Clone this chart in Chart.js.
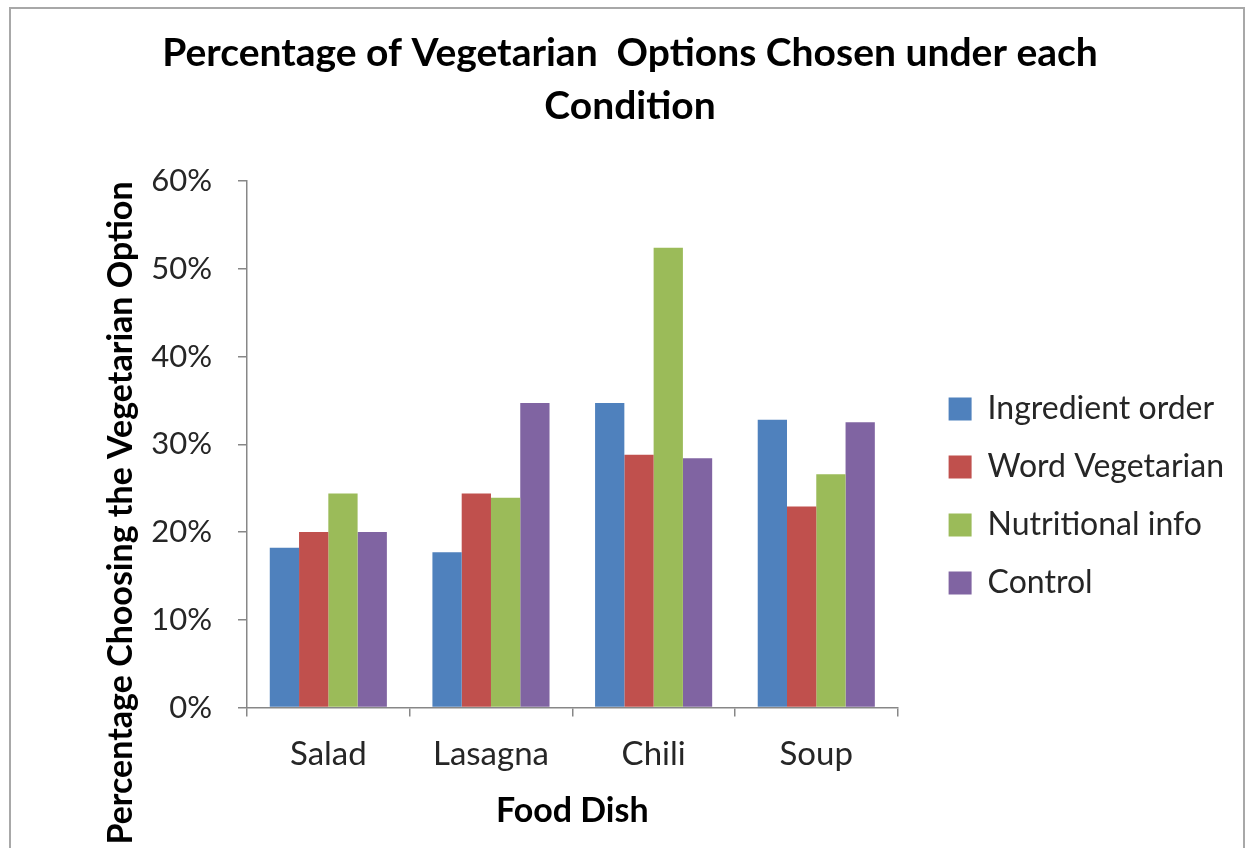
<!DOCTYPE html>
<html>
<head>
<meta charset="utf-8">
<title>Percentage of Vegetarian Options Chosen under each Condition</title>
<script src="https://cdn.jsdelivr.net/npm/chart.js@4.4.1/dist/chart.umd.min.js"></script>
<style>
    html, body { margin: 0; padding: 0; background: #fff; }
    .frame {
        position: absolute; left: 9px; top: 7px; width: 1236px; height: 900px;
        border: 2px solid #a8a8a8; box-sizing: border-box;
    }
    #chart { position: absolute; left: 0; top: 0; }
</style>
</head>
<body>
<div class="frame"></div>
<canvas id="chart" width="1248" height="848"></canvas>
<script>
'use strict';

const dishes = ['Salad', 'Lasagna', 'Chili', 'Soup'];
const ingredientOrder = [18.2, 17.7, 34.7, 32.8];
const wordVegetarian = [20.0, 24.4, 28.8, 22.9];
const nutritionalInfo = [24.4, 23.9, 52.4, 26.6];
const control = [20.0, 34.7, 28.4, 32.5];
const yTicks = [0, 10, 20, 30, 40, 50, 60];

const chartTitle = ['Percentage of Vegetarian  Options Chosen under each', 'Condition'];
const yTitle = 'Percentage Choosing the Vegetarian Option';
const xTitle = 'Food Dish';

const axisColor = '#878787';
const textColor = '#262626';

Chart.defaults.font.family = 'Lato';

// rotated y title sits lower than the plot centre in the original, so draw it by hand
const yTitlePlugin = {
    id: 'yTitle',
    afterDraw(chart) {
        const ctx = chart.ctx;
        ctx.save();
        ctx.translate(121, 513);
        ctx.rotate(-Math.PI / 2);
        ctx.font = 'bold 34px Lato';
        ctx.fillStyle = '#000';
        ctx.textAlign = 'center';
        ctx.textBaseline = 'middle';
        ctx.fillText(yTitle, 0, 0);
        ctx.restore();
    }
};

const data = {
    labels: dishes,
    datasets: [
        { label: 'Ingredient order', data: ingredientOrder, backgroundColor: '#4F81BD' },
        { label: 'Word Vegetarian', data: wordVegetarian, backgroundColor: '#C0504D' },
        { label: 'Nutritional info', data: nutritionalInfo, backgroundColor: '#9BBB59' },
        { label: 'Control', data: control, backgroundColor: '#8064A2' }
    ]
};

const config = {
    type: 'bar',
    data: data,
    plugins: [yTitlePlugin],
    options: {
        responsive: false,
        animation: false,
        barPercentage: 1,
        categoryPercentage: 0.72,
        layout: {
            padding: { left: 26, right: 14, top: 0, bottom: 17 }
        },
        plugins: {
            tooltip: { enabled: false },
            title: {
                display: true,
                text: chartTitle,
                color: '#000',
                font: { size: 39, weight: 'bold', lineHeight: 1.359 },
                padding: { top: 27, bottom: 48 }
            },
            legend: {
                position: 'right',
                maxWidth: 400,
                title: {
                    // empty spacer pushes the legend block down like the original
                    display: true,
                    text: '',
                    font: { size: 1, lineHeight: 1 },
                    padding: { top: 160, bottom: 0 }
                },
                labels: {
                    boxWidth: 23,
                    boxHeight: 23,
                    padding: 26,
                    color: textColor,
                    font: { size: 32 }
                }
            }
        },
        scales: {
            x: {
                grid: {
                    display: true,
                    drawOnChartArea: false,
                    tickLength: 9,
                    color: axisColor,
                    lineWidth: 1.5,
                    offset: true
                },
                border: { color: axisColor, width: 1.5 },
                ticks: {
                    color: textColor,
                    padding: 18,
                    font: { size: 33 }
                },
                title: {
                    display: true,
                    text: xTitle,
                    color: '#000',
                    font: { size: 34, weight: 'bold' },
                    padding: { top: -2, bottom: 0 }
                }
            },
            y: {
                min: 0,
                max: 60,
                afterBuildTicks: (scale) => {
                    scale.ticks = yTicks.map(v => ({ value: v }));
                },
                afterFit: (scale) => {
                    scale.width = 221;
                },
                grid: {
                    drawOnChartArea: false,
                    tickLength: 9,
                    color: axisColor,
                    lineWidth: 1.5
                },
                border: { color: axisColor, width: 1.5 },
                ticks: {
                    color: textColor,
                    padding: 26,
                    font: { size: 31 },
                    callback: (v) => v + '%'
                }
            },
            // blank axis only used as the gap between the plot and the legend
            gap: {
                type: 'linear',
                position: 'right',
                display: true,
                grid: { display: false },
                border: { display: false },
                ticks: { display: false },
                afterFit: (scale) => {
                    scale.width = 25;
                }
            }
        }
    }
};

const vegChart = new Chart(document.getElementById('chart'), config);
</script>
</body>
</html>
